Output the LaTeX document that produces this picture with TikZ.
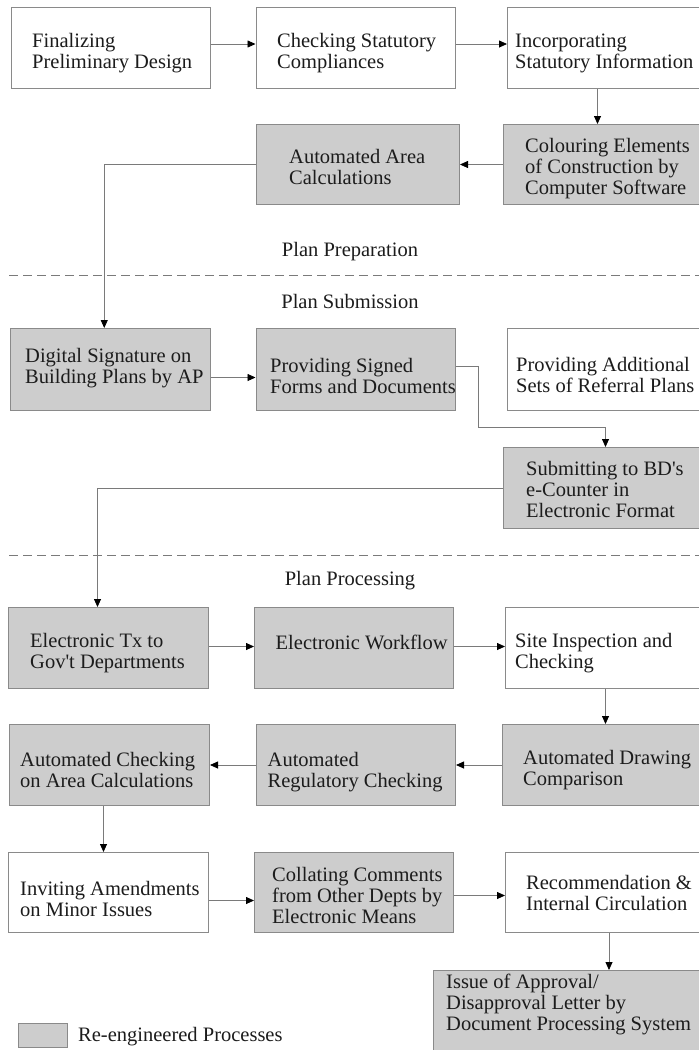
\documentclass[tikz,border=0pt]{standalone}
\usepackage{fontspec}
\setmainfont{Liberation Serif}
\usetikzlibrary{arrows.meta}
\definecolor{boxgray}{HTML}{CDCDCD}
\definecolor{edgegray}{HTML}{8A8A8A}
\definecolor{linegray}{HTML}{7A7A7A}
\definecolor{txt}{HTML}{1C1C1C}
\newcommand{\apos}{\XeTeXglyph\XeTeXcharglyph"0027\relax}
\tikzset{
  procbox/.style={draw=edgegray, line width=1pt, rectangle, inner sep=0pt, anchor=north west},
  reeng/.style={procbox, fill=boxgray},
  plain/.style={procbox, fill=white},
  lbl/.style={font=\fontsize{20.5}{21}\selectfont, text=txt, align=left, inner sep=0pt, anchor=west},
  sect/.style={font=\fontsize{20.5}{21}\selectfont, text=txt, inner sep=0pt},
  arr/.style={draw=linegray, line width=0.8pt, -{Triangle[length=8pt,width=7pt,black]}},
  sepline/.style={draw=linegray, line width=1pt, dash pattern=on 9pt off 5pt}
}
\begin{document}
\begin{tikzpicture}[x=1pt, y=-1pt]
\useasboundingbox (0,0) rectangle (699,1050);
\clip (0,0) rectangle (699,1050);
\fill[white] (0,0) rectangle (699,1050);

% Row 1
\node[plain, minimum width=199pt, minimum height=81pt] (a) at (10.5,7) {};
\node[plain, minimum width=199pt, minimum height=81pt] (b) at (255.5,7) {};
\node[plain, minimum width=200pt, minimum height=81pt] (c) at (507,7) {};
\node[lbl] (at) at (32,53.5) {Finalizing\\Preliminary Design};
\node[lbl] (bt) at (277,53.5) {Checking Statutory\\Compliances};
\node[lbl] (ct) at (515,53.5) {Incorporating\\Statutory Information};

% Row 2
\node[reeng, minimum width=203.5pt, minimum height=80pt] (d) at (255.5,124) {};
\node[reeng, minimum width=205pt, minimum height=80pt] (e) at (502.5,124) {};
\node[lbl] (dt) at (289,167) {Automated Area\\Calculations};
\node[lbl] (et) at (525,169) {Colouring Elements\\of Construction by\\Computer Software};

% Section labels and separators
\node[sect] (prep) at (350,252) {Plan Preparation};
\coordinate (s1l) at (9,275);
\coordinate (s1r) at (705,275);
\draw[sepline] (s1l) -- (s1r);
\node[sect] (subm) at (350,301) {Plan Submission};

% Row 3
\node[reeng, minimum width=199.5pt, minimum height=82pt] (f) at (10,328) {};
\node[reeng, minimum width=199.5pt, minimum height=82pt] (g) at (255.5,328) {};
\node[plain, minimum width=200pt, minimum height=82pt] (h) at (507,328) {};
\node[lbl] (ft) at (25,368.5) {Digital Signature on\\Building Plans by AP};
\node[lbl] (gt) at (270,376) {Providing Signed\\Forms and Documents};
\node[lbl] (ht) at (516,374.5) {Providing Additional\\Sets of Referral Plans};

% Submitting
\node[reeng, minimum width=205pt, minimum height=81pt] (i) at (502.5,447) {};
\node[lbl] (it) at (526,489.5) {Submitting to BD\apos s\\e-Counter in\\Electronic Format};

\coordinate (s2l) at (9,555);
\coordinate (s2r) at (705,555);
\draw[sepline] (s2l) -- (s2r);
\node[sect] (proc) at (350,581) {Plan Processing};

% Row 4
\node[reeng, minimum width=200pt, minimum height=81pt] (j) at (8,607) {};
\node[reeng, minimum width=198.5pt, minimum height=81pt] (k) at (254,607) {};
\node[plain, minimum width=202pt, minimum height=81pt] (l) at (505,607) {};
\node[lbl] (jt) at (30,653) {Electronic Tx to\\Gov\apos t Departments};
\node[lbl] (kt) at (275.5,642.5) {Electronic Workflow};
\node[lbl] (lt) at (515,653) {Site Inspection and\\Checking};

% Row 5
\node[reeng, minimum width=200pt, minimum height=81pt] (m) at (9,724) {};
\node[reeng, minimum width=199pt, minimum height=81pt] (n) at (256,724) {};
\node[reeng, minimum width=206pt, minimum height=81pt] (o) at (501.5,724) {};
\node[lbl] (mt) at (20,769.5) {Automated Checking\\on Area Calculations};
\node[lbl] (nt) at (267.5,772) {Automated\\Regulatory Checking};
\node[lbl] (ot) at (523,770) {Automated Drawing\\Comparison};

% Row 6
\node[plain, minimum width=200.5pt, minimum height=80pt] (p) at (7.5,852) {};
\node[reeng, minimum width=199pt, minimum height=80pt] (q) at (254,852) {};
\node[plain, minimum width=202pt, minimum height=80pt] (r) at (505,852) {};
\node[lbl] (pt) at (20,899) {Inviting Amendments\\on Minor Issues};
\node[lbl] (qt) at (272,895.5) {Collating Comments\\from Other Depts by\\Electronic Means};
\node[lbl] (rt) at (526,892.5) {Recommendation \&\\Internal Circulation};

% Final
\node[reeng, minimum width=275pt, minimum height=90pt] (s) at (433,970) {};
\node[lbl] (st) at (446,1004.5) {Issue of Approval/\\Disapproval Letter by\\Document Processing System};

% Legend
\node[reeng, minimum width=49pt, minimum height=24pt] (leg) at (18,1023) {};
\node[lbl] (legt) at (78,1036.5) {Re-engineered Processes};

% Connectors
\draw[arr] ([yshift=4pt]a.east) -- ([yshift=4pt]a.east -| b.west);
\draw[arr] ([yshift=4pt]b.east) -- ([yshift=4pt]b.east -| c.west);
\draw[arr] ([xshift=-10pt]c.south) -- ([xshift=-10pt]c.south |- e.north);
\draw[arr] (e.west) -- (e.west -| d.east);
\draw[arr] (d.west) -| ([xshift=-6pt]f.north);
\draw[arr] ([yshift=-8pt]f.east) -- ([yshift=-8pt]f.east -| g.west);
\draw[arr] ([yshift=3pt]g.east) -- ++(22,0) |- ([yshift=20pt]i.north) -- (i.north);
\draw[arr] (i.west) -| ([xshift=-11pt]j.north);
\draw[arr] ([yshift=1.5pt]j.east) -- ([yshift=1.5pt]j.east -| k.west);
\draw[arr] ([yshift=1.5pt]k.east) -- ([yshift=1.5pt]k.east -| l.west);
\draw[arr] ([xshift=-1pt]l.south) -- ([xshift=-1pt]l.south |- o.north);
\draw[arr] (o.west) -- (o.west -| n.east);
\draw[arr] (n.west) -- (n.west -| m.east);
\draw[arr] ([xshift=-6pt]m.south) -- ([xshift=-6pt]m.south |- p.north);
\draw[arr] ([yshift=-8pt]p.east) -- ([yshift=-8pt]p.east -| q.west);
\draw[arr] ([yshift=-3pt]q.east) -- ([yshift=-3pt]q.east -| r.west);
\draw[arr] ([xshift=2.5pt]r.south) -- ([xshift=2.5pt]r.south |- s.north);
\end{tikzpicture}
\end{document}
